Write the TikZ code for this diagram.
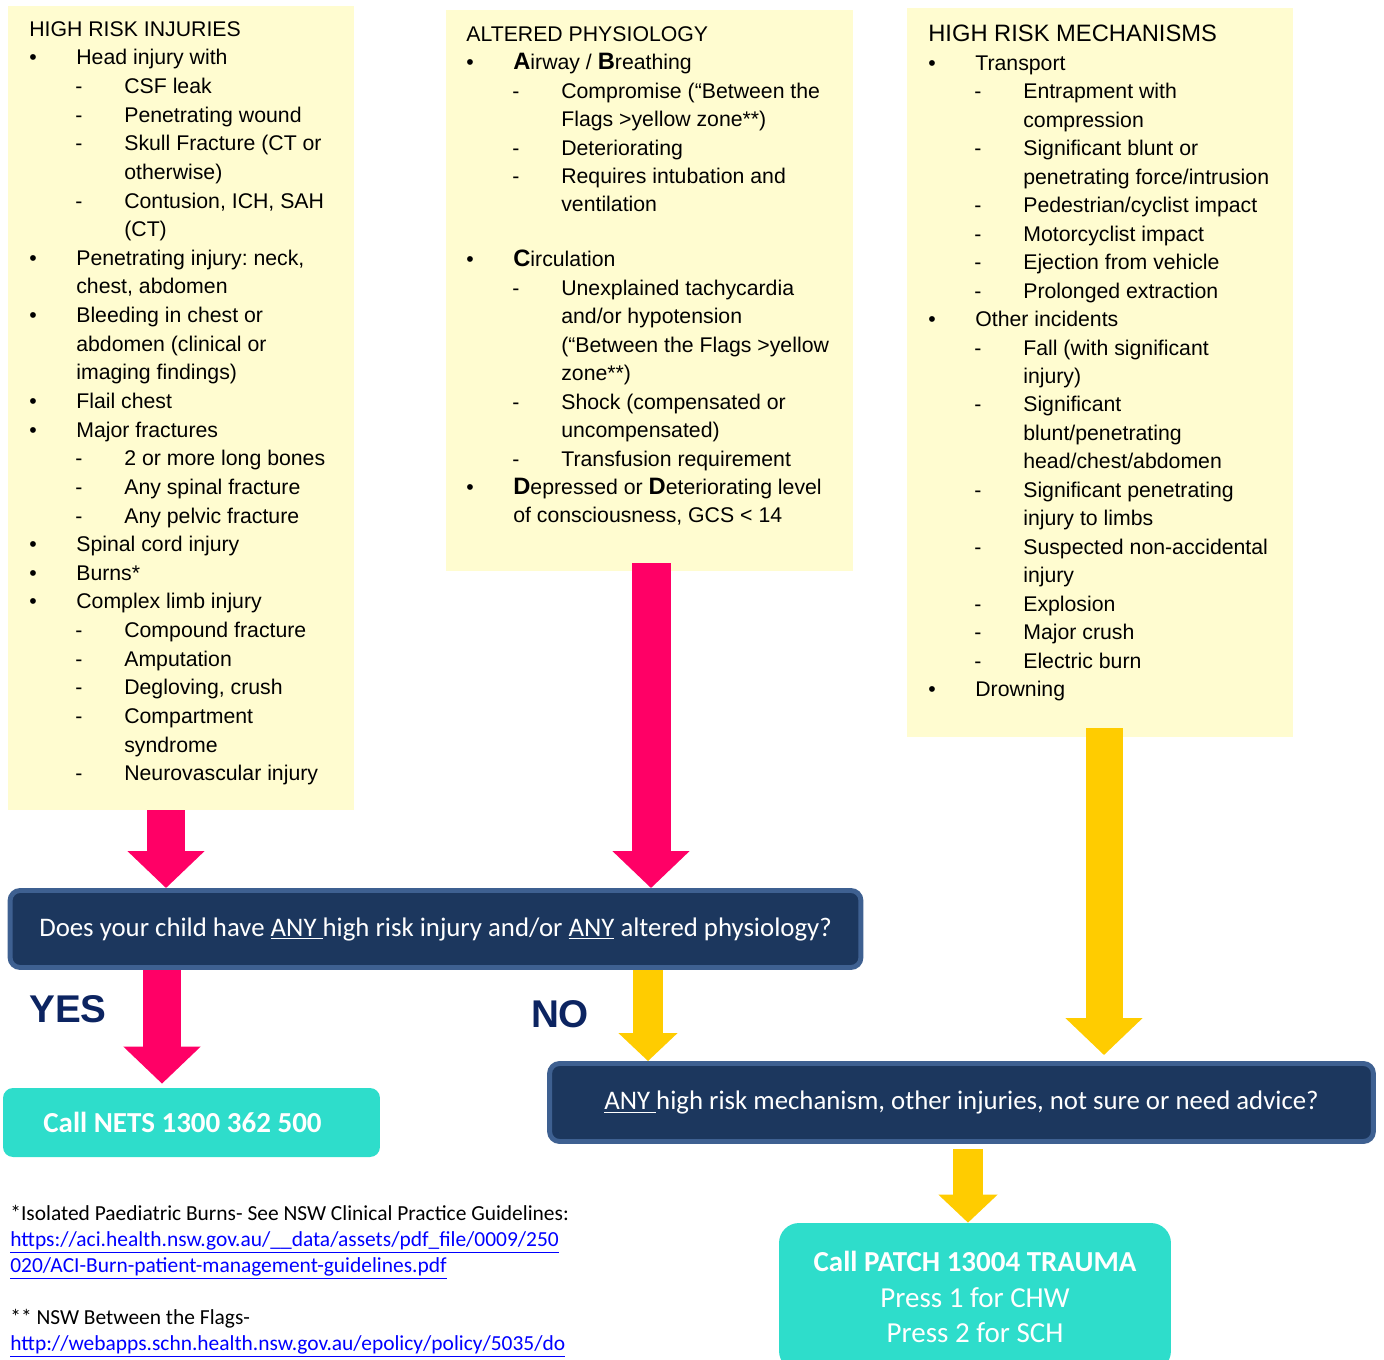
\documentclass[tikz,border=0pt]{standalone}
\usepackage{fontspec}
\setmainfont{Liberation Sans}
\newfontfamily\calfont{Carlito}
\usetikzlibrary{arrows.meta}
\frenchspacing

\definecolor{notepaper}{RGB}{255,252,208}
\definecolor{navybox}{RGB}{28,55,94}
\definecolor{navyedge}{RGB}{62,96,145}
\definecolor{tealbox}{RGB}{46,221,203}
\definecolor{hotpink}{RGB}{255,0,102}
\definecolor{amber}{RGB}{255,204,0}
\definecolor{yesno}{RGB}{12,36,97}
\definecolor{linkblue}{RGB}{0,0,255}

\newcommand\bulline[1]{\hspace*{0mm}\makebox[9.4mm][l]{\textbullet}#1}
\newcommand\bulmore[1]{\hspace*{9.4mm}#1}
\newcommand\dashline[1]{\hspace*{9.2mm}\makebox[9.8mm][l]{-}#1}
\newcommand\dashmore[1]{\hspace*{19mm}#1}
\newcommand\bigini[1]{{\fontsize{13.5}{16.2}\selectfont\bfseries #1}}

\begin{document}
\begin{tikzpicture}[x=0.02cm,y=-0.02cm,
  note/.style={fill=notepaper,inner sep=0pt},
  listtext/.style={anchor=north west,inner sep=0pt,align=left,font=\fontsize{12.1}{16.2}\selectfont},
  askbox/.style={fill=navybox,draw=navyedge,line width=2.8pt,rounded corners=2mm,text=white,font=\calfont\fontsize{15.25}{18}\selectfont},
  callbox/.style={fill=tealbox,rounded corners=2mm,text=white,align=center,font=\calfont\fontsize{16.5}{20.1}\selectfont},
  answer/.style={text=yesno,font=\bfseries\fontsize{22}{26}\selectfont},
  pinkarr/.style={hotpink,line width=0.78cm,-{Triangle[width=1.5cm,length=0.74cm]}},
  amberarr/.style={amber,line width=0.74cm,-{Triangle[width=1.5cm,length=0.74cm]}},
  ambersmall/.style={amber,line width=0.6cm,-{Triangle[width=1.15cm,length=0.56cm]}}]
  \useasboundingbox (0,0) rectangle (1384,1360);

  \node[note,minimum width=6.92cm,minimum height=16.08cm] (inj) at (181,408) {};
  \node[note,minimum width=8.14cm,minimum height=11.22cm] (phys) at (649.5,290.5) {};
  \node[note,minimum width=7.72cm,minimum height=14.58cm] (mech) at (1100,372.5) {};

  \node[listtext,font=\fontsize{12.1}{16.3}\selectfont] (injtxt) at (29,21) {HIGH RISK INJURIES\\
    \bulline{Head injury with}\\
    \dashline{CSF leak}\\
    \dashline{Penetrating wound}\\
    \dashline{Skull Fracture (CT or}\\
    \dashmore{otherwise)}\\
    \dashline{Contusion, ICH, SAH}\\
    \dashmore{(CT)}\\
    \bulline{Penetrating injury: neck,}\\
    \bulmore{chest, abdomen}\\
    \bulline{Bleeding in chest or}\\
    \bulmore{abdomen (clinical or}\\
    \bulmore{imaging findings)}\\
    \bulline{Flail chest}\\
    \bulline{Major fractures}\\
    \dashline{2 or more long bones}\\
    \dashline{Any spinal fracture}\\
    \dashline{Any pelvic fracture}\\
    \bulline{Spinal cord injury}\\
    \bulline{Burns*}\\
    \bulline{Complex limb injury}\\
    \dashline{Compound fracture}\\
    \dashline{Amputation}\\
    \dashline{Degloving, crush}\\
    \dashline{Compartment}\\
    \dashmore{syndrome}\\
    \dashline{Neurovascular injury}};

  \node[listtext] (phystxt) at (466,26) {ALTERED PHYSIOLOGY\\
    \bulline{\bigini{A}irway / \bigini{B}reathing}\\
    \dashline{Compromise (“Between the}\\
    \dashmore{Flags >yellow zone**)}\\
    \dashline{Deteriorating}\\
    \dashline{Requires intubation and}\\
    \dashmore{ventilation}\\[15pt]
    \bulline{\bigini{C}irculation}\\
    \dashline{Unexplained tachycardia}\\
    \dashmore{and/or hypotension}\\
    \dashmore{(“Between the Flags >yellow}\\
    \dashmore{zone**)}\\
    \dashline{Shock (compensated or}\\
    \dashmore{uncompensated)}\\
    \dashline{Transfusion requirement}\\
    \bulline{\bigini{D}epressed or \bigini{D}eteriorating level}\\
    \bulmore{of consciousness, GCS < 14}};

  \node[listtext] (mechtxt) at (928,25) {{\fontsize{13.5}{16.2}\selectfont HIGH RISK MECHANISMS}\\
    \bulline{Transport}\\
    \dashline{Entrapment with}\\
    \dashmore{compression}\\
    \dashline{Significant blunt or}\\
    \dashmore{penetrating force/intrusion}\\
    \dashline{Pedestrian/cyclist impact}\\
    \dashline{Motorcyclist impact}\\
    \dashline{Ejection from vehicle}\\
    \dashline{Prolonged extraction}\\
    \bulline{Other incidents}\\
    \dashline{Fall (with significant}\\
    \dashmore{injury)}\\
    \dashline{Significant}\\
    \dashmore{blunt/penetrating}\\
    \dashmore{head/chest/abdomen}\\
    \dashline{Significant penetrating}\\
    \dashmore{injury to limbs}\\
    \dashline{Suspected non-accidental}\\
    \dashmore{injury}\\
    \dashline{Explosion}\\
    \dashline{Major crush}\\
    \dashline{Electric burn}\\
    \bulline{Drowning}};

  \node[askbox,minimum width=17.02cm,minimum height=1.54cm] (q1) at (435.5,929)
    {Does your child have \underline{ANY\ }high risk injury and/or \underline{ANY} altered physiology?};
  \node[askbox,minimum width=16.48cm,minimum height=1.56cm] (q2) at (961.5,1102.5)
    {\underline{ANY\ }high risk mechanism, other injuries, not sure or need advice?};

  \node[callbox,minimum width=7.54cm,minimum height=1.38cm] (nets) at (191.5,1122.5) {\bfseries Call NETS 1300 362 500\hspace{0.36cm}};
  \node[callbox,rounded corners=4mm,minimum width=7.84cm,minimum height=2.96cm] (patch) at (975,1297)
    {\textbf{Call PATCH 13004 TRAUMA}\\Press 1 for CHW\\Press 2 for SCH};

  \node[answer] (yes) at (68,1009) {YES};
  \node[answer] (no) at (560,1014) {NO};

  \coordinate (ca) at (166,0);
  \coordinate (cb) at (651,0);
  \coordinate (cc) at (162,0);
  \coordinate (cd) at (648,0);
  \coordinate (ce) at (1104,0);
  \coordinate (cf) at (968,0);

  \draw[pinkarr] (inj.south -| ca) -- (q1.north -| ca);
  \draw[pinkarr] ([yshift=0.16cm]phys.south -| cb) -- (q1.north -| cb);
  \draw[pinkarr] (q1.south -| cc) -- ([yshift=0.08cm]nets.north -| cc);
  \draw[ambersmall] (q1.south -| cd) -- (q2.north -| cd);
  \draw[amberarr] ([yshift=0.18cm]mech.south -| ce) -- ([yshift=0.12cm]q2.north -| ce);
  \draw[ambersmall] ([yshift=-0.1cm]q2.south -| cf) -- (patch.north -| cf);

  \node[anchor=north west,inner sep=0pt,align=left,font=\calfont\fontsize{12.2}{14.8}\selectfont] (notes) at (10,1205)
    {*Isolated Paediatric Burns- See NSW Clinical Practice Guidelines:\\
    \textcolor{linkblue}{\underline{https://aci.health.nsw.gov.au/\_\_data/assets/pdf\_file/0009/250}}\\
    \textcolor{linkblue}{\underline{020/ACI-Burn-patient-management-guidelines.pdf}}\\[14.8pt]
    ** NSW Between the Flags-\\
    \textcolor{linkblue}{\underline{http://webapps.schn.health.nsw.gov.au/epolicy/policy/5035/do}}};
\end{tikzpicture}
\end{document}
